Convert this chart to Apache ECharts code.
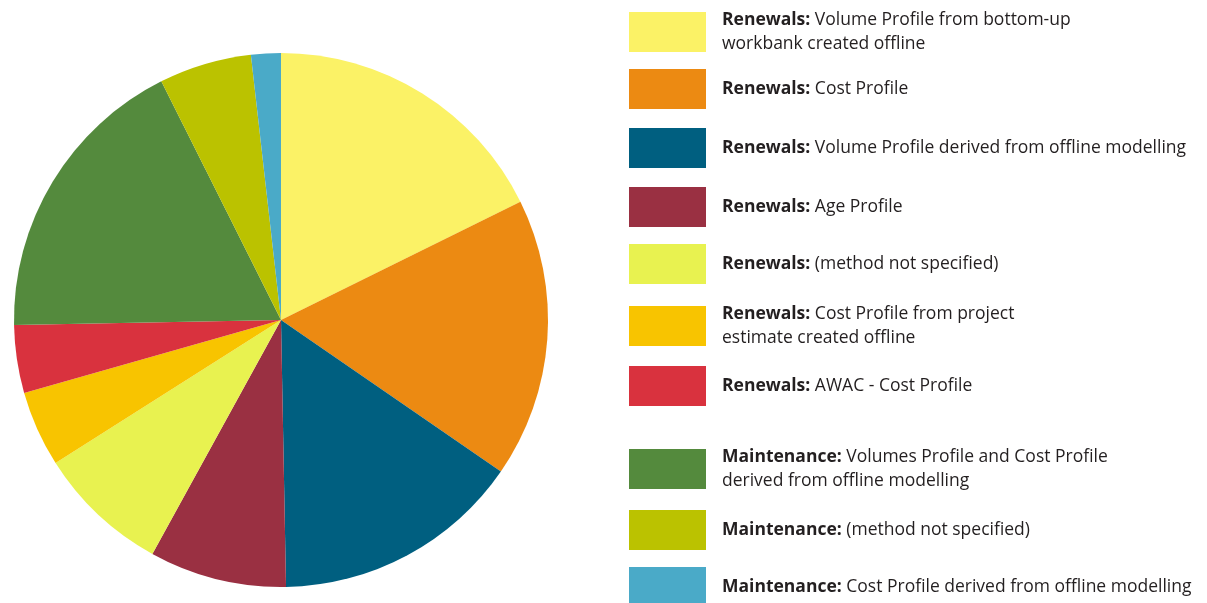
<!DOCTYPE html>
<html>
<head>
<meta charset="utf-8">
<script src="https://cdn.jsdelivr.net/npm/echarts@6/dist/echarts.min.js"></script>
<style>
  html, body { margin: 0; padding: 0; background: #ffffff; }
  #chart { width: 1207px; height: 603px; }
</style>
</head>
<body>
<div id="chart"></div>
<script>
// ---- data ----
var categories = [
  'Renewals: Volume Profile from bottom-up workbank created offline',
  'Renewals: Cost Profile',
  'Renewals: Volume Profile derived from offline modelling',
  'Renewals: Age Profile',
  'Renewals: (method not specified)',
  'Renewals: Cost Profile from project estimate created offline',
  'Renewals: AWAC - Cost Profile',
  'Maintenance: Volumes Profile and Cost Profile derived from offline modelling',
  'Maintenance: (method not specified)',
  'Maintenance: Cost Profile derived from offline modelling'
];
var legendPrefix = [
  'Renewals:', 'Renewals:', 'Renewals:', 'Renewals:', 'Renewals:',
  'Renewals:', 'Renewals:', 'Maintenance:', 'Maintenance:', 'Maintenance:'
];
var legendLines = [
  [' Volume Profile from bottom-up', 'workbank created offline'],
  [' Cost Profile'],
  [' Volume Profile derived from offline modelling'],
  [' Age Profile'],
  [' (method not specified)'],
  [' Cost Profile from project', 'estimate created offline'],
  [' AWAC - Cost Profile'],
  [' Volumes Profile and Cost Profile', 'derived from offline modelling'],
  [' (method not specified)'],
  [' Cost Profile derived from offline modelling']
];
var values = [17.7, 16.9, 15.1, 8.3, 8.0, 4.6, 4.1, 17.9, 5.6, 1.8];
var colors = ['#FBF266', '#EC8A12', '#005F80', '#9A3042', '#E8F250',
              '#F8C400', '#D9323E', '#548A3D', '#BBC200', '#4AAAC8'];

// ---- layout ----
var legendRectTops = [12, 69, 128, 187, 244, 306, 366, 449, 510, 567];
var ITEM_W = 77, ITEM_H = 40, LINE_H = 24, FS = 17.5;
var FONT = '"Open Sans", "Noto Sans", sans-serif';

var chart = echarts.init(document.getElementById('chart'), null, { renderer: 'canvas' });

var legends = categories.map(function (name, i) {
  var nLines = legendLines[i].length;
  var extra = Math.max(0, (nLines * LINE_H - ITEM_H) / 2);
  return {
    show: true,
    orient: 'vertical',
    left: 629,
    top: legendRectTops[i] - extra,
    padding: 0,
    itemWidth: ITEM_W,
    itemHeight: ITEM_H,
    icon: 'rect',
    selectedMode: false,
    data: [name],
    formatter: function () {
      var lines = legendLines[i];
      var s = '{b|' + legendPrefix[i] + '}{n|' + lines[0] + '}';
      for (var k = 1; k < lines.length; k++) s += '\n{n|' + lines[k] + '}';
      return s;
    },
    textStyle: {
      fontFamily: FONT,
      fontSize: FS,
      color: '#231F20',
      lineHeight: LINE_H,
      padding: [0, 0, 0, 11],
      rich: {
        b: { fontFamily: FONT, fontSize: FS, fontWeight: 'bold', color: '#231F20', lineHeight: LINE_H },
        n: { fontFamily: FONT, fontSize: FS, color: '#231F20', lineHeight: LINE_H }
      }
    }
  };
});

chart.setOption({
  animation: false,
  backgroundColor: '#ffffff',
  color: colors,
  legend: legends,
  series: [{
    type: 'pie',
    center: [281, 320],
    radius: [0, 267],
    startAngle: 90,
    clockwise: true,
    label: { show: false },
    labelLine: { show: false },
    itemStyle: { borderWidth: 0 },
    emphasis: { disabled: true },
    data: categories.map(function (c, i) {
      return { name: c, value: values[i], itemStyle: { color: colors[i] } };
    })
  }]
});
</script>
</body>
</html>
